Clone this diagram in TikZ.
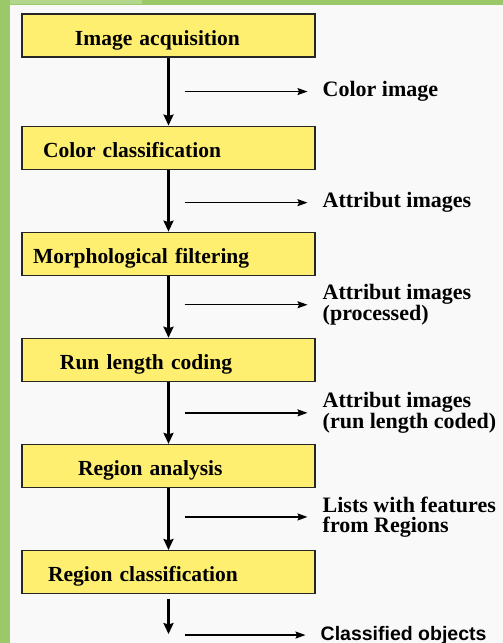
\documentclass[tikz,border=0pt]{standalone}
\usepackage{fontspec}
\setmainfont{Liberation Serif}
\setsansfont{Liberation Sans}
\usepackage{tikz}
\usetikzlibrary{arrows.meta,positioning,calc}

\definecolor{framegreen}{RGB}{155,201,106}
\definecolor{palegreen}{RGB}{178,214,140}
\definecolor{paper}{RGB}{250,249,250}
\definecolor{boxyellow}{RGB}{255,239,112}

\begin{document}
\begin{tikzpicture}[
    x=1pt, y=-1pt,
    node distance=62pt,
    every node/.style={align=left}
]

% Define styles
\tikzstyle{stage} = [rectangle, draw=black!85, line width=1.1pt, fill=boxyellow,
    minimum width=293pt, minimum height=43pt, text width=281pt, inner xsep=6pt,
    text height=20pt, text depth=1pt,
    font=\fontsize{21.5}{20}\selectfont\bfseries]
\tikzstyle{outlabel} = [inner xsep=2pt, inner ysep=0pt,
    font=\fontsize{22}{20}\selectfont\bfseries]
\tikzstyle{flow} = [draw, line width=2.2pt, -{Stealth[length=11pt,width=10pt,inset=1.5pt]}]
\tikzstyle{tap} = [draw, line width=1.3pt, shorten >=13pt,
    -{Stealth[length=10pt,width=7pt,inset=1.5pt]}]

% Background and frame
\fill[paper] (0,0) rectangle (503,643);
\fill[framegreen] (0,0) rectangle (10,643);
\fill[framegreen] (0,0) rectangle (503,5);
\fill[palegreen] (10,0) rectangle (142,4);
\useasboundingbox (0,0) rectangle (503,643);

% Nodes
\node [stage] (acq) at (168.5,35.5) {\hspace*{47pt}Image acquisition};
\node [stage, below=68pt of acq] (colcls) {\hspace*{15pt}Color classification};
\node [stage, below=of colcls] (morph) {\hspace*{5pt}Morphological filtering};
\node [stage, below=of morph] (rlc) {\hspace*{32pt}Run length coding};
\node [stage, below=of rlc] (regana) {\hspace*{50pt}Region analysis};
\node [stage, below=of regana] (regcls) {\hspace*{20pt}Region classification};

% Tap points
\coordinate (t1) at ($(acq.south)!.5!(colcls.north) + (16,0)$);
\coordinate (t2) at ($(colcls.south)!.5!(morph.north) + (16,2)$);
\coordinate (t3) at ($(morph.south)!.5!(rlc.north) + (16,-2)$);
\coordinate (t4) at ($(rlc.south)!.5!(regana.north) + (16,0)$);
\coordinate (t5) at ($(regana.south)!.5!(regcls.north) + (16,-2)$);
\coordinate (out) at ($(regcls.south) + (0,40)$);
\coordinate (t6) at ($(regcls.south) + (16,41)$);

% Output labels
\node [outlabel, right=136pt of t1] (colimg) {Color image};
\node [outlabel, right=136pt of t2] (attimg) {Attribut images};
\node [outlabel, right=136pt of t3] (attproc) {Attribut images\\(processed)};
\node [outlabel, right=136pt of t4] (attrlc) {Attribut images\\(run length coded)};
\node [outlabel, right=136pt of t5] (feats) {Lists with features\\from Regions};
\node [outlabel, right=134pt of t6, font=\fontsize{19.5}{20}\selectfont\sffamily\bfseries] (classobj) {Classified objects};

% Paths
\path [flow] (acq) -- (colcls);
\path [flow] (colcls) -- (morph);
\path [flow] (morph) -- (rlc);
\path [flow] (rlc) -- (regana);
\path [flow] (regana) -- (regcls);
\path [flow, shorten <=5pt] (regcls) -- (out);

\path [tap] (t1) -- (colimg);
\path [tap] (t2) -- (attimg);
\path [tap] (t3) -- (attproc);
\path [tap] (t4) -- (attrlc);
\path [tap] (t5) -- (feats);
\path [tap] (t6) -- (classobj);

\end{tikzpicture}
\end{document}
